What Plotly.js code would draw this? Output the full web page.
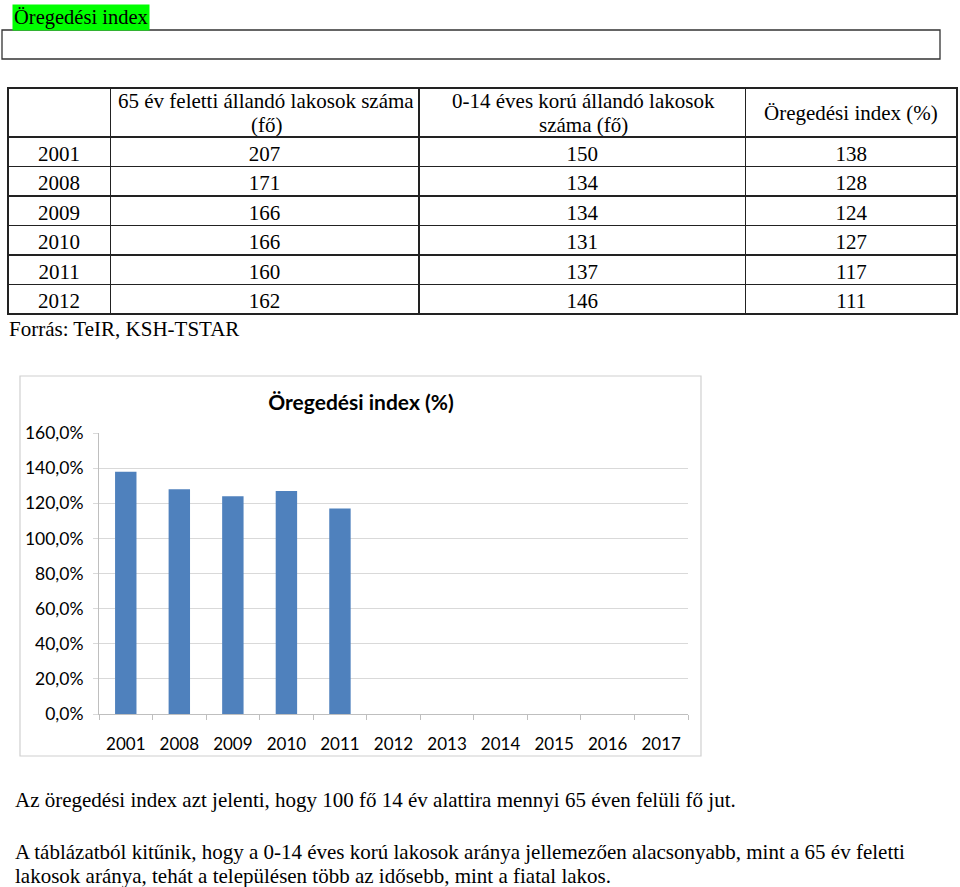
<!DOCTYPE html>
<html>
<head>
<meta charset="utf-8">
<script src="https://cdn.plot.ly/plotly-3.0.1.min.js"></script>
<style>
html,body{margin:0;padding:0;background:#fff;}
#page{width:960px;height:887px;}
</style>
</head>
<body>
<div id="page"></div>
<script>
// ---- data ----
const tableYears = ['2001','2008','2009','2010','2011','2012'];
const over65 = [207, 171, 166, 166, 160, 162];
const under14 = [150, 134, 134, 131, 137, 146];
const agingIndex = [138, 128, 124, 127, 117, 111];
// header texts, one list of lines per column
const headerCol2 = ['65 év feletti állandó lakosok száma', '(fő)'];
const headerCol3 = ['0-14 éves korú állandó lakosok', 'száma (fő)'];
const headerCol4 = ['Öregedési index (%)'];

const chartYears = ['2001','2008','2009','2010','2011','2012','2013','2014','2015','2016','2017'];
const chartValues = [138, 128, 124, 127, 117, null, null, null, null, null, null];
const chartTitle = 'Öregedési index (%)';

const heading = 'Öregedési index';
const sourceNote = 'Forrás: TeIR, KSH-TSTAR';
const para1 = 'Az öregedési index azt jelenti, hogy 100 fő 14 év alattira mennyi 65 éven felüli fő jut.';
const para2a = 'A táblázatból kitűnik, hogy a 0-14 éves korú lakosok aránya jellemezően alacsonyabb, mint a 65 év feletti';
const para2b = 'lakosok aránya, tehát a településen több az idősebb, mint a fiatal lakos.';

// ---- helpers (pixel -> paper) ----
const W = 960, H = 887;
const px = x => x / W;
const py = y => 1 - y / H;
const serif = 'Liberation Serif, Times New Roman, serif';
const sans = 'Lato, Open Sans, sans-serif';
const TFS = 21;

const tableTrace = {
  type: 'table',
  domain: {x: [px(8), px(957)], y: [py(325), py(88)]},
  columnwidth: [102, 308, 326, 211],
  header: {
    values: ['', '', '', ''],
    align: 'center',
    height: 49,
    line: {color: '#222', width: 1.3},
    fill: {color: '#ffffff'},
    font: {family: serif, size: TFS, color: '#000'}
  },
  cells: {
    values: [tableYears, over65, under14, agingIndex],
    align: 'center',
    height: 29.5,
    line: {color: '#222', width: 1.3},
    fill: {color: '#ffffff'},
    font: {family: serif, size: TFS, color: '#000'}
  }
};

const barTrace = {
  type: 'bar',
  x: chartYears,
  y: chartValues,
  marker: {color: '#4f81bd'},
  xaxis: 'x', yaxis: 'y',
  hoverinfo: 'skip'
};

function txt(text, x, y, size, anchor, extra) {
  return Object.assign({
    text: text, xref: 'paper', yref: 'paper', x: px(x), y: py(y),
    xanchor: anchor || 'left', yanchor: 'middle', showarrow: false,
    font: {family: serif, size: size, color: '#000'}
  }, extra || {});
}

function headerLines(lines, cx, cy, step) {
  const n = lines.length;
  return lines.map((l, i) => txt(l, cx, cy + (i - (n - 1) / 2) * step, TFS, 'center'));
}

const annotations = [
  txt(heading, 12, 17.5, 20.5, 'left', {bgcolor: '#00ff00', borderpad: 1}),
  txt(sourceNote, 7, 329, TFS),
  txt(para1, 13, 800, TFS),
  txt(para2a, 13, 852, TFS),
  txt(para2b, 13, 876, TFS)
].concat(headerLines(headerCol2, 266, 113, 24))
 .concat(headerLines(headerCol3, 583, 113, 24))
 .concat(headerLines(headerCol4, 851, 113, 24));

const layout = {
  width: W, height: H,
  margin: {l: 0, r: 0, t: 0, b: 0},
  paper_bgcolor: '#ffffff',
  plot_bgcolor: '#ffffff',
  showlegend: false,
  separators: ',.',
  bargap: 0.6,
  xaxis: {
    domain: [px(99), px(688)],
    type: 'category',
    categoryorder: 'array',
    categoryarray: chartYears,
    tickson: 'boundaries',
    ticks: 'outside', ticklen: 5, tickcolor: '#bfbfbf', tickwidth: 1,
    showline: true, linecolor: '#bfbfbf', linewidth: 1,
    showgrid: false, zeroline: false,
    ticklabelstandoff: 15,
    tickfont: {family: sans, size: 17, color: '#000'},
    fixedrange: true
  },
  yaxis: {
    domain: [py(714), py(433)],
    range: [0, 160],
    dtick: 20, tick0: 0,
    tickformat: '.1f', ticksuffix: '%',
    ticks: 'outside', ticklen: 5, tickcolor: '#d9d9d9', tickwidth: 1,
    showline: true, linecolor: '#bfbfbf', linewidth: 1,
    showgrid: true, gridcolor: '#d9d9d9', gridwidth: 1,
    zeroline: false,
    ticklabelstandoff: 6,
    tickfont: {family: sans, size: 17.5, color: '#000'},
    fixedrange: true
  },
  title: {
    text: chartTitle,
    x: px(361), xanchor: 'center',
    y: py(403), yanchor: 'middle',
    font: {family: sans, size: 21, color: '#000', weight: 700}
  },
  shapes: [
    {type: 'rect', xref: 'paper', yref: 'paper', x0: px(2), x1: px(940), y0: py(59), y1: py(30),
     line: {color: '#333', width: 1.3}},
    {type: 'rect', xref: 'paper', yref: 'paper', x0: px(20), x1: px(701), y0: py(756), y1: py(376),
     line: {color: '#d0d0d0', width: 1.2}}
  ],
  annotations: annotations
};

Plotly.newPlot('page', [tableTrace, barTrace], layout, {displayModeBar: false, staticPlot: true});
</script>
</body>
</html>
